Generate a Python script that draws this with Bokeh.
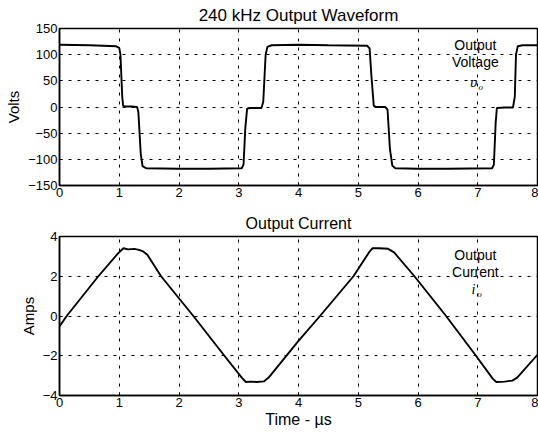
from bokeh.plotting import figure
from bokeh.layouts import column
from bokeh.models import Range1d, FixedTicker
from bokeh.core.properties import value
from bokeh.embed import file_html
from bokeh.resources import INLINE

# ---- data ----
time_v = [0.0, 0.5, 0.95, 1.0, 1.02, 1.05, 1.065, 1.1, 1.2, 1.3, 1.32, 1.36, 1.39, 1.45, 2.0, 2.5,
          3.05, 3.08, 3.11, 3.14, 3.2, 3.38, 3.41, 3.45, 3.48, 3.55, 4.0, 4.5,
          5.15, 5.19, 5.22, 5.26, 5.3, 5.45, 5.49, 5.53, 5.57, 5.62, 6.0, 6.5,
          7.24, 7.27, 7.3, 7.32, 7.45, 7.59, 7.62, 7.64, 7.67, 7.75, 8.0]
volts = [119, 118, 116, 113, 100, 20, 2, 1, 1, 0, -10, -90, -113, -117, -118, -118,
         -117, -110, -40, -3, -2, -2, 10, 100, 115, 118, 119, 118,
         117, 112, 60, 2, 0, 0, -5, -80, -112, -117, -118, -118,
         -117, -110, -30, -2, -1, -1, 20, 100, 116, 118, 118]

time_i = [0.0, 0.12, 0.65, 0.98, 1.07, 1.15, 1.25, 1.33, 1.4, 1.47, 1.7, 2.24, 2.76, 3.05, 3.12, 3.2, 3.3,
          3.42, 3.5, 4.0, 4.36, 4.92, 5.18, 5.24, 5.35, 5.5, 5.6, 5.94, 6.47, 6.97, 7.25, 7.31, 7.45,
          7.58, 7.66, 8.0]
amps = [-0.53, 0.0, 2.0, 3.15, 3.41, 3.35, 3.38, 3.33, 3.25, 3.08, 2.0, 0.0, -2.0, -3.1, -3.32, -3.3,
        -3.32, -3.29, -3.1, -1.25, 0.0, 2.0, 3.2, 3.41, 3.41, 3.38, 3.2, 2.0, 0.0, -2.0, -3.15, -3.32,
        -3.3, -3.25, -3.1, -1.95]

x_ticks = [0, 1, 2, 3, 4, 5, 6, 7, 8]
v_ticks = [-150, -100, -50, 0, 50, 100, 150]
i_ticks = [-4, -2, 0, 2, 4]

FONT = "Liberation Sans"


def style(p, yticks):
    p.xaxis.ticker = FixedTicker(ticks=x_ticks)
    p.yaxis.ticker = FixedTicker(ticks=yticks)
    for ax in (p.xaxis[0], p.yaxis[0]):
        ax.axis_line_color = "black"
        ax.axis_line_width = 1.5
        ax.major_tick_in = 3
        ax.major_tick_out = 0
        ax.major_tick_line_color = "black"
        ax.minor_tick_line_color = None
        ax.major_label_text_font = FONT
        ax.major_label_text_font_size = "13px"
        ax.major_label_text_color = "black"
        ax.major_label_standoff = 2
        ax.axis_label_text_font = FONT
        ax.axis_label_text_font_style = "normal"
        ax.axis_label_text_color = "black"
    p.yaxis.axis_label_standoff = 3
    p.xaxis.axis_label_standoff = 1
    p.yaxis.axis_label_text_font_size = "15px"
    p.xaxis.axis_label_text_font_size = "16px"
    p.grid.grid_line_color = "black"
    p.grid.grid_line_dash = "3 6"
    p.grid.grid_line_width = 1
    p.outline_line_color = "black"
    p.outline_line_width = 1.5
    p.outline_line_alpha = 1
    p.title.text_font = FONT
    p.title.text_font_size = "17px"
    p.title.text_font_style = "normal"
    p.title.text_color = "black"
    p.title.align = "center"
    p.background_fill_color = "white"
    p.border_fill_color = "white"


p1 = figure(width=538, height=203, output_backend="svg", toolbar_location=None,
            title="240 kHz Output Waveform",
            x_range=Range1d(0, 8), y_range=Range1d(-150, 150),
            min_border_left=59, min_border_right=1, min_border_top=28, min_border_bottom=18)
style(p1, v_ticks)
p1.title.standoff = 7
p1.yaxis.axis_label = "Volts"
p1.line(time_v, volts, line_color="black", line_width=1.9)
p1.text(x=[6.96, 6.96], y=[118, 86], text=["Output", "Voltage"],
        text_font=value(FONT), text_font_size=value("14px"),
        text_align="center", text_baseline="middle", text_color="black")
p1.text(x=[6.93], y=[47], text=["υ"], text_font=value("DejaVu Serif"),
        text_font_style="italic", text_font_size=value("13px"),
        text_align="center", text_baseline="middle", text_color="black")
p1.text(x=[7.05], y=[38], text=["o"], text_font=value("Liberation Serif"),
        text_font_style="italic", text_font_size=value("9px"),
        text_align="center", text_baseline="middle", text_color="black")

p2 = figure(width=538, height=231, output_backend="svg", toolbar_location=None,
            title="Output Current",
            x_range=Range1d(0, 8), y_range=Range1d(-4, 4),
            min_border_left=59, min_border_right=1, min_border_top=33, min_border_bottom=39)
style(p2, i_ticks)
p2.title.text_font_size = "16px"
p2.title.standoff = 10
p2.yaxis.axis_label = "Amps"
p2.xaxis.axis_label = "Time - µs"
p2.line(time_i, amps, line_color="black", line_width=1.9)
p2.text(x=[6.96, 6.96], y=[3.07, 2.23], text=["Output", "Current"],
        text_font=value(FONT), text_font_size=value("14px"),
        text_align="center", text_baseline="middle", text_color="black")
p2.text(x=[6.93], y=[1.35], text=["i"], text_font=value("Liberation Serif"),
        text_font_style="italic", text_font_size=value("14px"),
        text_align="center", text_baseline="middle", text_color="black")
p2.text(x=[7.03], y=[1.12], text=["o"], text_font=value("Liberation Serif"),
        text_font_style="italic", text_font_size=value("9px"),
        text_align="center", text_baseline="middle", text_color="black")

layout = column(p1, p2, spacing=0)
open("out.html", "w").write(file_html(layout, INLINE))
